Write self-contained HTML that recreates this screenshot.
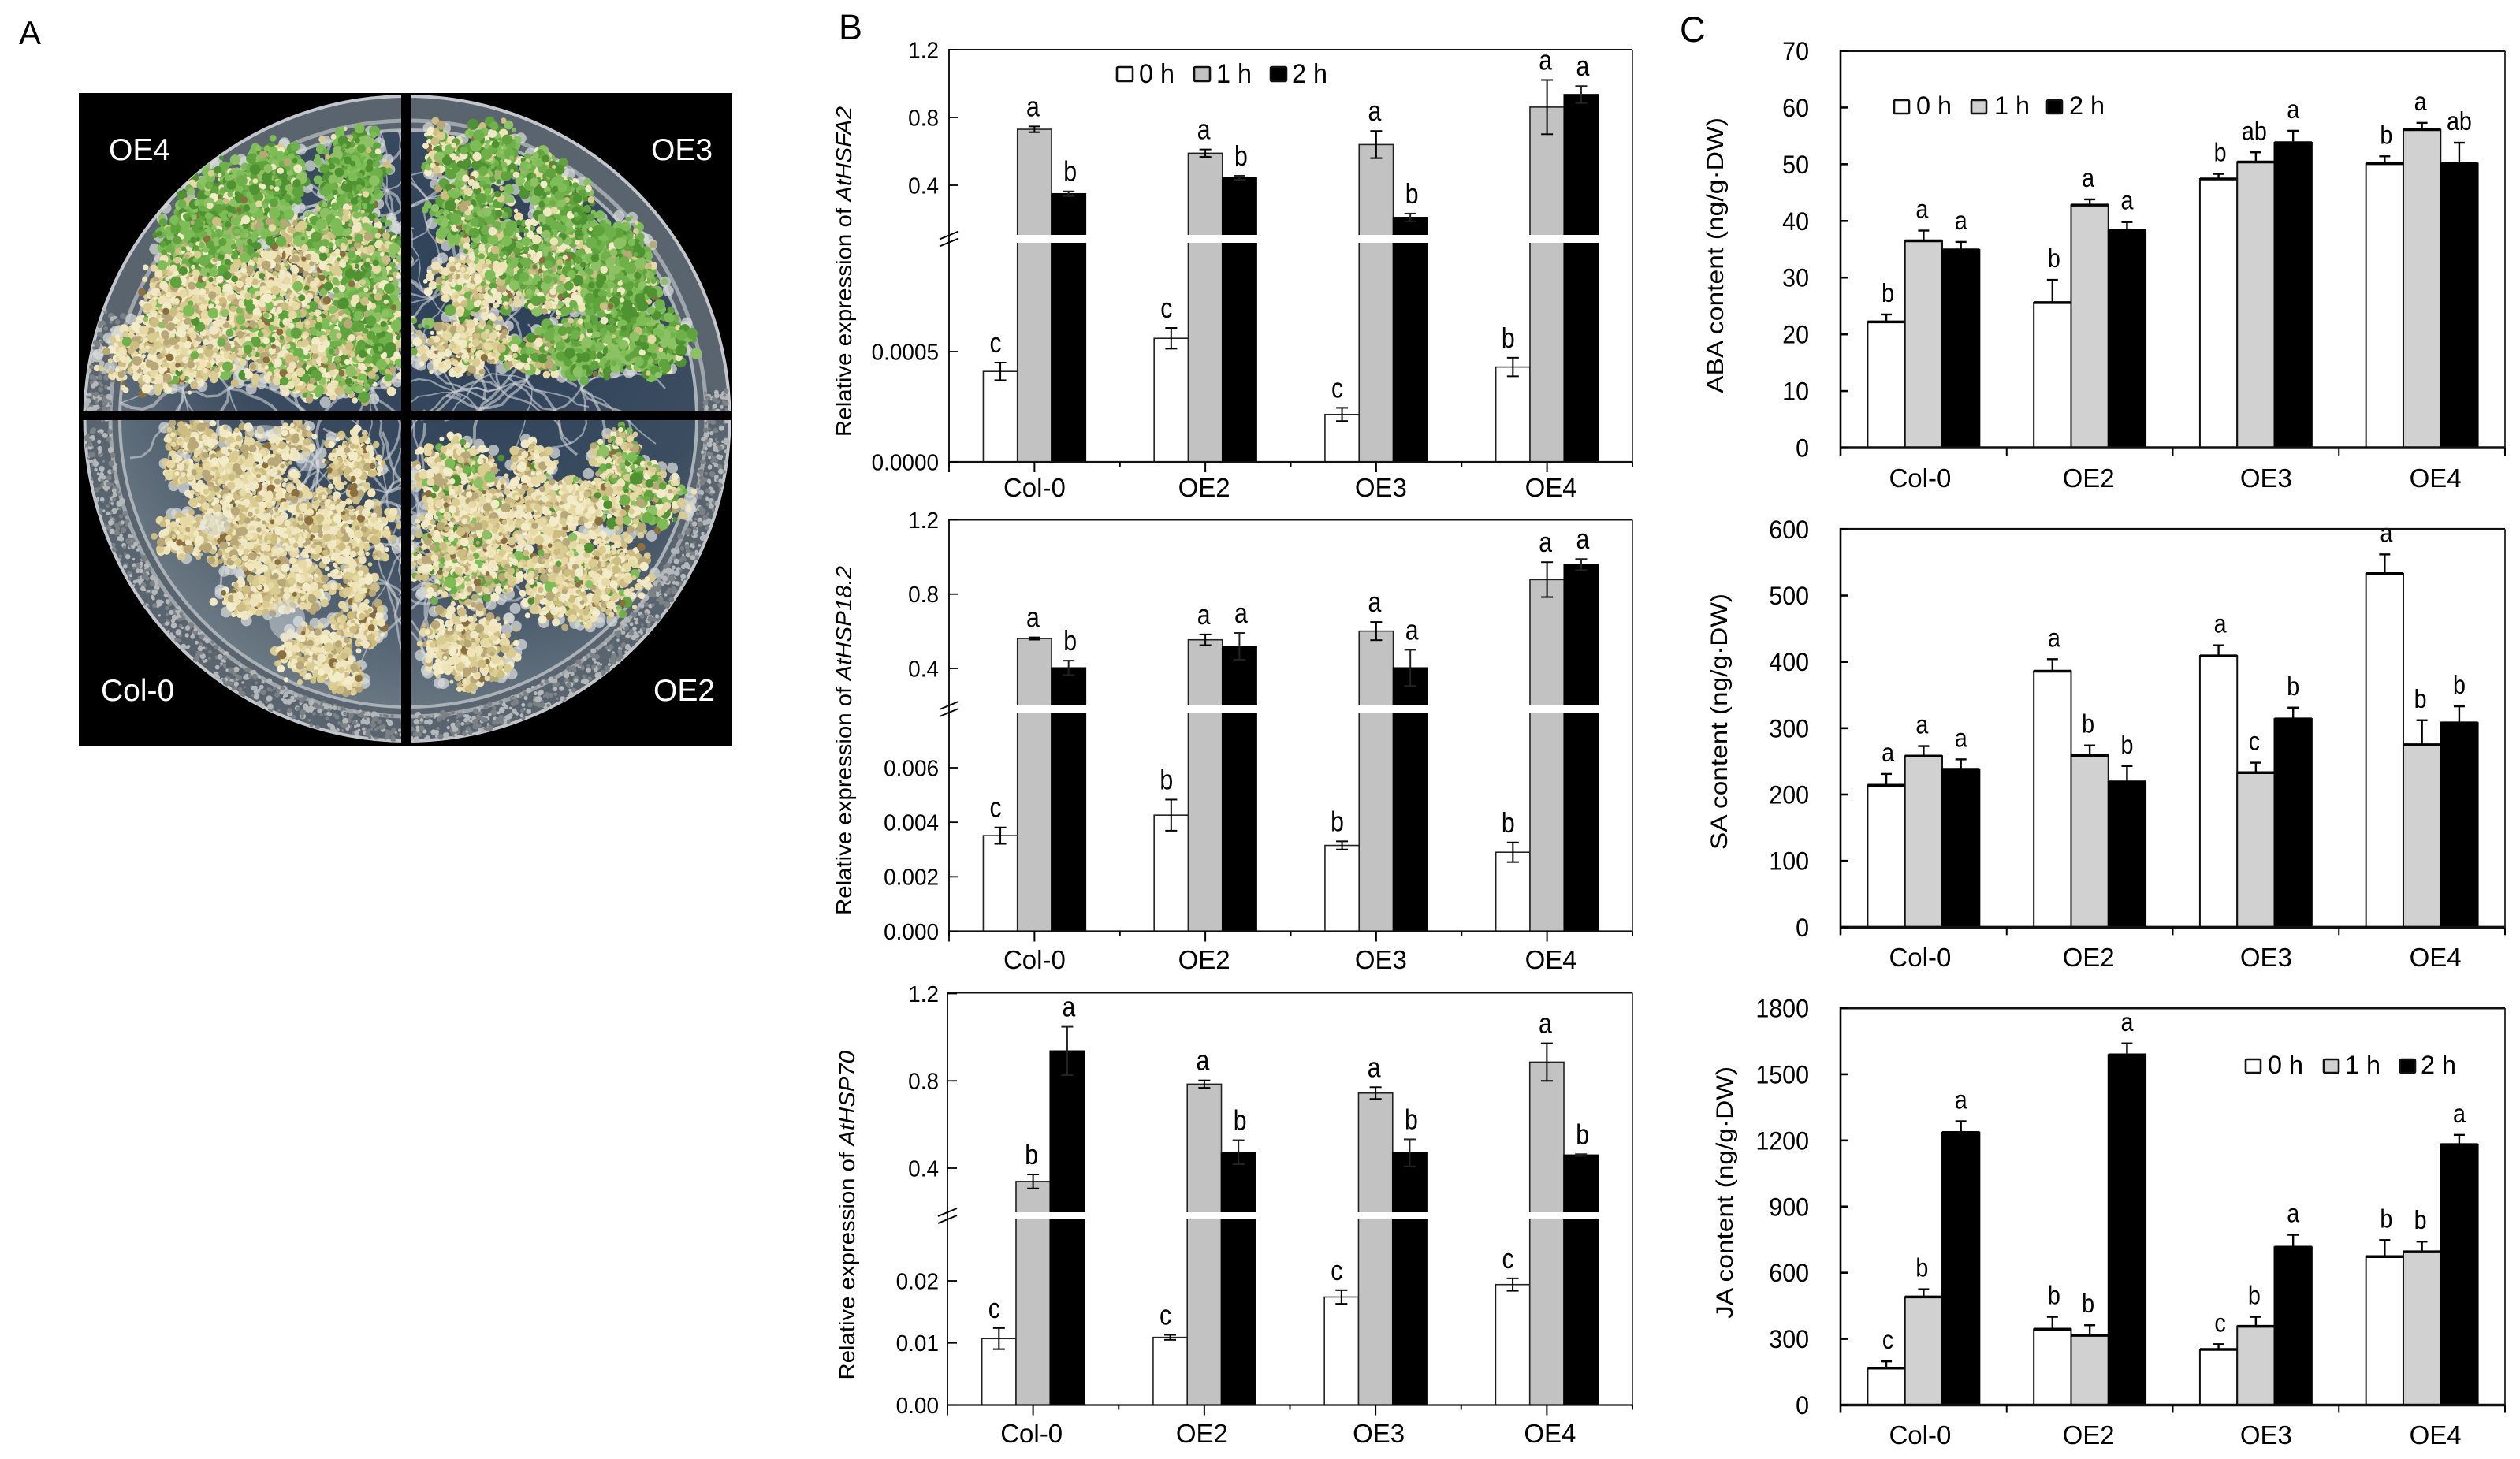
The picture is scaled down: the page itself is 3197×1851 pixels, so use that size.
<!DOCTYPE html>
<html lang="en">
<head>
<meta charset="utf-8">
<title>Panel figure: seedlings, gene expression and hormone content</title>
<style>
html,body{margin:0;padding:0;background:#fff}
svg{display:block}
text{font-family:"Liberation Sans",sans-serif;fill:#000}
</style>
</head>
<body>
<svg id="figure" xmlns="http://www.w3.org/2000/svg" width="3197" height="1851" viewBox="0 0 3197 1851">
  <defs>
    <radialGradient id="agar" cx="62%" cy="30%" r="80%">
      <stop offset="0" stop-color="#2c4058"/>
      <stop offset="0.55" stop-color="#3c4d60"/>
      <stop offset="1" stop-color="#76838c"/>
    </radialGradient>
    <clipPath id="dish-clip"><circle cx="516.5" cy="531" r="410"/></clipPath>
    <clipPath id="agar-clip"><circle cx="518" cy="531" r="366"/></clipPath>
  </defs>
  <rect width="3197" height="1851" fill="#fff"/>

  <text x="24" y="56" font-size="42">A</text>
  <text x="1064" y="50" font-size="45">B</text>
  <text x="2131" y="53" font-size="45">C</text>

  <g id="photo">
    <rect x="100" y="118" width="829" height="829" fill="#000"/>
    <circle cx="516.5" cy="531" r="409" fill="#5a646e" stroke="#c2c6ca" stroke-width="4"/>
    <circle cx="518" cy="531" r="378" fill="none" stroke="#9ea5ab" stroke-width="5"/>
    <circle cx="518" cy="531" r="366" fill="url(#agar)" stroke="#aab1b7" stroke-width="4"/>
    <g id="condensation" clip-path="url(#dish-clip)"></g>
    <g id="roots" clip-path="url(#agar-clip)"></g>
    <g id="seedlings" clip-path="url(#dish-clip)"></g>
    <rect x="509" y="118" width="13" height="829" fill="#000"/>
    <rect x="100" y="521" width="829" height="12" fill="#000"/>
    <text x="138" y="203" font-size="39" style="fill:#fff">OE4</text>
    <text x="826" y="203" font-size="39" style="fill:#fff">OE3</text>
    <text x="128" y="889" font-size="39" style="fill:#fff">Col-0</text>
    <text x="829" y="889" font-size="39" style="fill:#fff">OE2</text>
  </g>
  <g id="charts"></g>
</svg>

<script>
// ---------- chart data ----------
const categories = ['Col-0', 'OE2', 'OE3', 'OE4'];
const seriesNames = ['0 h', '1 h', '2 h'];

const hsfa2Values0h = [0.00041, 0.00056, 0.000215, 0.00043];
const hsfa2Values1h = [0.73, 0.589, 0.64, 0.861];
const hsfa2Values2h = [0.35, 0.444, 0.21, 0.935];
const hsfa2Err0h = [0.00004, 0.000047, 0.00003, 0.000042];
const hsfa2Err1h = [0.017, 0.022, 0.08, 0.16];
const hsfa2Err2h = [0.014, 0.012, 0.023, 0.05];
const hsfa2Letters = ['c', 'a', 'b', 'c', 'a', 'b', 'c', 'a', 'b', 'b', 'a', 'a'];
const hsfa2UpperTicks = [0.4, 0.8, 1.2];
const hsfa2UpperLabels = ['0.4', '0.8', '1.2'];
const hsfa2LowerTicks = [0, 0.0005];
const hsfa2LowerLabels = ['0.0000', '0.0005'];

const hsp182Values0h = [0.00351, 0.00426, 0.00315, 0.0029];
const hsp182Values1h = [0.561, 0.554, 0.601, 0.878];
const hsp182Values2h = [0.403, 0.519, 0.403, 0.959];
const hsp182Err0h = [0.0003, 0.00057, 0.00015, 0.00036];
const hsp182Err1h = [0.006, 0.029, 0.049, 0.094];
const hsp182Err2h = [0.039, 0.072, 0.097, 0.03];
const hsp182Letters = ['c', 'a', 'b', 'b', 'a', 'a', 'b', 'a', 'a', 'b', 'a', 'a'];
const hsp182UpperTicks = [0.4, 0.8, 1.2];
const hsp182UpperLabels = ['0.4', '0.8', '1.2'];
const hsp182LowerTicks = [0, 0.002, 0.004, 0.006];
const hsp182LowerLabels = ['0.000', '0.002', '0.004', '0.006'];

const hsp70Values0h = [0.0107, 0.0109, 0.0174, 0.0194];
const hsp70Values1h = [0.339, 0.785, 0.744, 0.886];
const hsp70Values2h = [0.937, 0.473, 0.47, 0.46];
const hsp70Err0h = [0.0017, 0.0004, 0.0011, 0.001];
const hsp70Err1h = [0.032, 0.017, 0.027, 0.086];
const hsp70Err2h = [0.111, 0.055, 0.062, 0.004];
const hsp70Letters = ['c', 'b', 'a', 'c', 'a', 'b', 'c', 'a', 'b', 'c', 'a', 'b'];
const hsp70UpperTicks = [0.4, 0.8, 1.2];
const hsp70UpperLabels = ['0.4', '0.8', '1.2'];
const hsp70LowerTicks = [0, 0.01, 0.02];
const hsp70LowerLabels = ['0.00', '0.01', '0.02'];

const abaValues0h = [22.2, 25.6, 47.4, 50.1];
const abaValues1h = [36.5, 42.8, 50.4, 56.1];
const abaValues2h = [34.9, 38.3, 53.8, 50.1];
const abaErr0h = [1.3, 4.0, 0.9, 1.3];
const abaErr1h = [1.8, 1.0, 1.7, 1.2];
const abaErr2h = [1.4, 1.5, 2.1, 3.7];
const abaLetters = ['b', 'a', 'a', 'b', 'a', 'a', 'b', 'ab', 'a', 'b', 'a', 'ab'];
const abaTicks = [0, 10, 20, 30, 40, 50, 60, 70];
const abaTickLabels = ['0', '10', '20', '30', '40', '50', '60', '70'];

const saValues0h = [214, 386, 409, 533];
const saValues1h = [258, 259, 233, 275];
const saValues2h = [238, 219, 314, 308];
const saErr0h = [17, 18, 16, 29];
const saErr1h = [15, 15, 15, 37];
const saErr2h = [15, 24, 17, 25];
const saLetters = ['a', 'a', 'a', 'a', 'b', 'b', 'a', 'c', 'b', 'a', 'b', 'b'];
const saTicks = [0, 100, 200, 300, 400, 500, 600];
const saTickLabels = ['0', '100', '200', '300', '400', '500', '600'];

const jaValues0h = [167, 344, 252, 673];
const jaValues1h = [490, 316, 357, 695];
const jaValues2h = [1236, 1588, 716, 1181];
const jaErr0h = [31, 56, 24, 75];
const jaErr1h = [35, 46, 43, 46];
const jaErr2h = [51, 52, 56, 44];
const jaLetters = ['c', 'b', 'a', 'b', 'b', 'a', 'c', 'b', 'a', 'b', 'b', 'a'];
const jaTicks = [0, 300, 600, 900, 1200, 1500, 1800];
const jaTickLabels = ['0', '300', '600', '900', '1200', '1500', '1800'];

// ---------- helpers ----------
const SVGNS = 'http://www.w3.org/2000/svg';
function node(tag, attrs, parent) {
  const el = document.createElementNS(SVGNS, tag);
  for (const k in attrs) el.setAttribute(k, attrs[k]);
  parent.appendChild(el);
  return el;
}
function linear(v0, y0, v1, y1) {
  return v => y0 + (v - v0) * (y1 - y0) / (v1 - v0);
}
function line(parent, x1, y1, x2, y2, stroke, w) {
  return node('line', { x1, y1, x2, y2, stroke, 'stroke-width': w }, parent);
}

// ---------- chart renderer ----------
function drawChart(p) {
  const root = document.getElementById('charts');
  const g = node('g', {}, root);
  
  

  const groupW = (p.right - p.left) / 4;
  const centers = categories.map((c, i) => p.left + groupW * (i + 0.5));
  const yOf = p.broken
    ? (v => (v >= p.split ? p.upperScale(v) : p.lowerScale(v)))
    : p.scale;

  // bars
  const fills = ['#fff', p.gray, '#000'];
  p.values.forEach((vals, s) => {
    vals.forEach((v, i) => {
      const x = centers[i] + (s - 1.5) * p.barW;
      const y = yOf(v);
      const bar = node('rect', {
        x: x, y: y, width: p.barW, height: p.bottom - y,
        fill: fills[s], stroke: s === 2 ? '#000' : p.barStroke, 'stroke-width': p.barLine
      }, g);
      
      
      if (p.topLine) {
        const cap = line(g, x, y, x + p.barW, y, '#000', p.topLine);
        
        
      }
    });
  });

  // break band across bars
  if (p.broken) {
    centers.forEach(c => {
      const band = node('rect', {
        x: c - 0.5 * p.barW - 2, y: p.breakTop,
        width: p.barW * 2 + 4, height: p.breakBottom - p.breakTop, fill: '#fff'
      }, g);
      
      
    });
    centers.forEach((c, i) => {
      if (p.values[0][i] >= p.split) {
        node('rect', { x: c - 1.5 * p.barW, y: p.breakTop, width: p.barW, height: p.breakBottom - p.breakTop, fill: '#fff' }, g);
      }
    });
  }

  // error bars
  p.values.forEach((vals, s) => {
    vals.forEach((v, i) => {
      const cx = centers[i] + (s - 1) * p.barW;
      const e = p.errors[s][i];
      const top = yOf(v + e);
      const low = p.upOnly ? yOf(v) : yOf(v - e);
      const color = (s === 2 && !p.upOnly) ? '#222' : '#000';
      const eb = node('g', {}, g);
      
      
      line(eb, cx, top, cx, low, color, p.errLine);
      line(eb, cx - p.capW / 2, top, cx + p.capW / 2, top, color, p.errLine);
      if (!p.upOnly) line(eb, cx - p.capW / 2, low, cx + p.capW / 2, low, color, p.errLine);
    });
  });

  // significance letters
  p.letters.forEach((txt, k) => {
    const i = Math.floor(k / 3), s = k % 3;
    const cx = centers[i] + (s - 1) * p.barW + p.letterDx[s];
    const top = yOf(p.values[s][i] + p.errors[s][i]);
    const t = node('text', {
      transform: 'translate(' + cx + ',' + (top - p.letterGap) + ') scale(' + p.letterScale + ',1)',
      x: 0, y: 0, 'font-size': p.letterSize, 'text-anchor': 'middle'
    }, g);
    t.textContent = txt;
    
    
  });

  // frame
  const frame = node('g', {}, g);
  
  
  line(frame, p.left, p.top, p.right, p.top, '#111', p.topW);
  line(frame, p.right, p.top, p.right, p.bottom, '#222', p.rightW);
  line(frame, p.left, p.top - p.topW / 2, p.left, p.bottom + p.tickLen, '#000', p.axisW);
  line(frame, p.left, p.bottom, p.right, p.bottom, '#111', p.baseW);

  // y ticks
  function yTicks(vals, labels, scale) {
    vals.forEach((v, i) => {
      const y = scale(v);
      const tick = line(g, p.left, y, p.left + p.yTickLen, y, '#000', p.axisW);
      
      
      const t = node('text', {
        transform: 'translate(' + p.tickRight + ',' + (y + p.tickSize * 0.36) + ') scale(' + p.tickScale + ',1)',
        x: 0, y: 0, 'font-size': p.tickSize, 'text-anchor': 'end'
      }, g);
      t.textContent = labels[i];
      
      
    });
  }
  if (p.broken) {
    yTicks(p.upperTicks, p.upperLabels, p.upperScale);
    yTicks(p.lowerTicks, p.lowerLabels, p.lowerScale);
    const m = (p.breakTop + p.breakBottom) / 2;
    [-4.5, 4.5].forEach(d => {
      const sl = line(g, p.left - 12, m + d + 5, p.left + 12, m + d - 5, '#000', 2);
      
      
    });
  } else {
    yTicks(p.ticks, p.tickLabels, p.scale);
  }

  // x ticks and labels
  for (let i = 0; i <= 4; i++) {
    const x = p.left + groupW * i;
    const tk = line(g, x, p.bottom, x, p.bottom + (p.broken ? 6 : p.tickLen), '#000', 2);
    
    
  }
  categories.forEach((c, i) => {
    if (p.broken) {
      const tk = line(g, centers[i], p.bottom, centers[i], p.bottom + 13, '#000', 2);
      
      
    }
    const t = node('text', { x: centers[i] + p.catDx[i], y: p.catY, 'font-size': p.catSize, 'text-anchor': 'middle' }, g);
    t.textContent = c;
    
    
  });

  // y title
  const title = node('text', {
    transform: 'translate(' + p.titleX + ',' + p.titleBottom + ') rotate(-90)',
    x: 0, y: 0, 'font-size': p.titleSize,
    textLength: p.titleLen, lengthAdjust: 'spacingAndGlyphs'
  }, g);
  
  
  title.appendChild(document.createTextNode(p.titleText));
  if (p.titleItalic) {
    const it = node('tspan', { 'font-style': 'italic' }, title);
    it.textContent = p.titleItalic;
  }

  // legend
  if (p.legend) {
    seriesNames.forEach((n, s) => {
      const lg = node('g', {}, g);
      
      
      const sx = p.legend.swatchX[s];
      node('rect', {
        x: sx, y: p.legend.y, width: p.legend.w, height: p.legend.h, rx: 1.5,
        fill: fills[s], stroke: '#111', 'stroke-width': 2.6
      }, lg);
      const t = node('text', {
        x: p.legend.textX[s], y: p.legend.baseline,
        'font-size': p.legend.size, textLength: 45, lengthAdjust: 'spacingAndGlyphs'
      }, lg);
      t.textContent = n;
    });
  }
}

const bBase = {
  broken: true, split: 0.1, gray: '#c2c2c2', barStroke: '#222', barLine: 1.6, topLine: 0,
  left: 1204, right: 2071, barW: 43.3, capW: 15, errLine: 2, upOnly: false,
  letterDx: [-6, -2, 2], letterGap: 13, letterSize: 36, letterScale: 0.84,
  tickLen: 13, yTickLen: 12, axisW: 1.8, topW: 2, rightW: 1.6, baseW: 2.2,
  tickSize: 28.5, tickScale: 0.98, tickRight: 1191, catSize: 33, catDx: [0, -1.5, 6, 5], titleSize: 28
};
const cBase = {
  broken: false, gray: '#d1d1d1', barStroke: '#111', barLine: 2, topLine: 3.5,
  left: 2335, right: 3178, barW: 47.3, capW: 14, errLine: 2.4, upOnly: true,
  letterDx: [2, -2, 0], letterGap: 16, letterSize: 33, letterScale: 0.87,
  tickLen: 10, yTickLen: 10, axisW: 2.6, topW: 3, rightW: 1.8, baseW: 3.4,
  tickSize: 32, tickScale: 0.95, tickRight: 2295, catSize: 33, catDx: [-4.5, -1.5, 13, 17], titleSize: 30
};

drawChart(Object.assign({}, bBase, {
  name: 'chart-athsfa2', top: 63, bottom: 586, breakTop: 298, breakBottom: 308,
  values: [hsfa2Values0h, hsfa2Values1h, hsfa2Values2h],
  errors: [hsfa2Err0h, hsfa2Err1h, hsfa2Err2h], letters: hsfa2Letters,
  upperScale: linear(0.4, 235, 1.2, 63), lowerScale: linear(0, 586, 0.0005, 446),
  upperTicks: hsfa2UpperTicks, upperLabels: hsfa2UpperLabels,
  lowerTicks: hsfa2LowerTicks, lowerLabels: hsfa2LowerLabels,
  catY: 630, titleX: 1080, titleBottom: 554, titleLen: 419,
  titleText: 'Relative expression of ', titleItalic: 'AtHSFA2',
  legend: { y: 85, w: 20, h: 18, size: 34, baseline: 105, swatchX: [1417, 1515, 1612], textX: [1445, 1543, 1639] }
}));
drawChart(Object.assign({}, bBase, {
  name: 'chart-athsp18-2', top: 659.5, bottom: 1181.5, breakTop: 895, breakBottom: 904,
  values: [hsp182Values0h, hsp182Values1h, hsp182Values2h],
  errors: [hsp182Err0h, hsp182Err1h, hsp182Err2h], letters: hsp182Letters,
  upperScale: linear(0.4, 848, 1.2, 659.5), lowerScale: linear(0, 1181.5, 0.006, 974),
  upperTicks: hsp182UpperTicks, upperLabels: hsp182UpperLabels,
  lowerTicks: hsp182LowerTicks, lowerLabels: hsp182LowerLabels,
  catY: 1229, titleX: 1080, titleBottom: 1161, titleLen: 443,
  titleText: 'Relative expression of ', titleItalic: 'AtHSP18.2'
}));
drawChart(Object.assign({}, bBase, {
  name: 'chart-athsp70', left: 1202, top: 1259.5, bottom: 1782.5, breakTop: 1538, breakBottom: 1547,
  values: [hsp70Values0h, hsp70Values1h, hsp70Values2h],
  errors: [hsp70Err0h, hsp70Err1h, hsp70Err2h], letters: hsp70Letters,
  upperScale: linear(0.4, 1482, 1.2, 1260.5), lowerScale: linear(0, 1782.5, 0.02, 1625),
  upperTicks: hsp70UpperTicks, upperLabels: hsp70UpperLabels,
  lowerTicks: hsp70LowerTicks, lowerLabels: hsp70LowerLabels,
  catY: 1830, catDx: [-2, -3, 4, 4], titleX: 1084, titleBottom: 1750.5, titleLen: 417.5,
  titleText: 'Relative expression of ', titleItalic: 'AtHSP70'
}));
drawChart(Object.assign({}, cBase, {
  name: 'chart-aba', top: 64.5, bottom: 568,
  values: [abaValues0h, abaValues1h, abaValues2h],
  errors: [abaErr0h, abaErr1h, abaErr2h], letters: abaLetters,
  scale: linear(0, 568, 70, 64.5), ticks: abaTicks, tickLabels: abaTickLabels,
  catY: 618, titleX: 2186, titleBottom: 499, titleLen: 350,
  titleText: 'ABA content (ng/g\u00b7DW)',
  legend: { y: 127, w: 19, h: 17, size: 32, baseline: 145, swatchX: [2403, 2501, 2597], textX: [2431, 2530, 2625] }
}));
drawChart(Object.assign({}, cBase, {
  name: 'chart-sa', top: 671.4, bottom: 1176.3,
  values: [saValues0h, saValues1h, saValues2h],
  errors: [saErr0h, saErr1h, saErr2h], letters: saLetters,
  scale: linear(0, 1176.3, 600, 671.4), ticks: saTicks, tickLabels: saTickLabels,
  catY: 1226, titleX: 2191, titleBottom: 1078, titleLen: 325,
  titleText: 'SA content (ng/g\u00b7DW)'
}));
drawChart(Object.assign({}, cBase, {
  name: 'chart-ja', top: 1279, bottom: 1782.5,
  values: [jaValues0h, jaValues1h, jaValues2h],
  errors: [jaErr0h, jaErr1h, jaErr2h], letters: jaLetters,
  scale: linear(0, 1782.5, 1800, 1279), ticks: jaTicks, tickLabels: jaTickLabels,
  catY: 1832, titleX: 2198, titleBottom: 1673, titleLen: 320,
  titleText: 'JA content (ng/g\u00b7DW)',
  legend: { y: 1344, w: 19, h: 17, size: 32, baseline: 1362, swatchX: [2849, 2948, 3045], textX: [2877, 2975, 3071] }
}));

// ---------- photo texture (decorative, not chart data) ----------
(function () {
  let seed = 20240611;
  function rnd() {
    seed = (seed + 0x6D2B79F5) | 0;
    let t = Math.imul(seed ^ (seed >>> 15), 1 | seed);
    t = (t + Math.imul(t ^ (t >>> 7), 61 | t)) ^ t;
    return ((t ^ (t >>> 14)) >>> 0) / 4294967296;
  }
  const px = X => 60 + X / 1.742;
  const py = Y => 80 + Y / 1.742;
  const cx = 516.5, cy = 531;

  // condensation droplets around lower rim and left edge
  const cond = document.getElementById('condensation');
  for (let i = 0; i < 1300; i++) {
    const a = (-5 + rnd() * 205) * Math.PI / 180;
    const r = 376 + rnd() * 32;
    node('circle', {
      cx: (cx + r * Math.cos(a)).toFixed(1), cy: (cy + r * Math.sin(a)).toFixed(1),
      r: (1.5 + rnd() * 2.4).toFixed(1), fill: rnd() < 0.5 ? '#b4b8bb' : '#7c8186'
    }, cond);
  }

  // roots
  const roots = document.getElementById('roots');
  const rootStarts = [[750, 280], [840, 300], [850, 520], [830, 620], [1000, 720], [1180, 720], [1060, 700], [400, 720], [720, 720], [620, 300], [750, 950], [820, 1000], [750, 1150], [300, 720], [860, 1150], [500, 1000], [600, 900], [1000, 1100]];
  rootStarts.forEach(s => {
    for (let k = 0; k < 9; k++) {
      let x = px(s[0]), y = py(s[1]);
      let d = 'M' + x.toFixed(0) + ' ' + y.toFixed(0);
      let a = rnd() * 6.28;
      for (let j = 0; j < 8; j++) {
        a += (rnd() - 0.5) * 1.2;
        x += Math.cos(a) * 15; y += Math.sin(a) * 15;
        d += 'L' + x.toFixed(0) + ' ' + y.toFixed(0);
      }
      node('path', { d, fill: 'none', stroke: '#cdd2d5', 'stroke-width': 1.5 + rnd() * 2.5, opacity: 0.6 }, roots);
    }
  });

  // seedlings: [x, y, rx, ry, green share], measured on the photo
  const clusters = [
    [505,240,50,50,.85],[672,235,55,65,.9],[430,310,85,70,.75],[345,390,70,65,.85],[660,330,45,50,.6],
    [580,380,35,30,.7],[560,440,60,70,.1],[690,430,70,70,.5],[310,500,70,60,.1],[290,560,70,40,.1],[450,560,70,100,.15],
    [640,620,120,85,.4],[720,560,45,70,.75],[250,650,90,55,.05],[350,660,50,30,.05],[570,660,70,50,.2],
    [860,190,22,40,.2],[895,210,30,35,.7],[982,195,45,45,.7],[1088,250,40,40,.7],[1140,325,50,55,.8],[938,325,65,60,.6],
    [950,490,75,50,.15],[1050,440,70,60,.65],[1120,490,50,50,.35],[1240,440,70,70,.8],[1270,510,65,50,.85],
    [1195,625,90,50,.8],[1340,620,60,50,.9],[1070,650,50,30,.3],[925,625,75,50,.05],[990,615,25,30,.4],
    [320,825,50,25,0],[290,900,25,25,0],[430,930,90,85,0],[545,835,30,30,0],[675,880,45,45,0],[640,1030,95,60,0],
    [440,1060,85,45,0],[300,1045,45,35,0],[530,1160,70,40,0],[445,1185,50,30,0],[680,1150,35,30,0],[580,1300,60,45,0],
    [690,1240,40,40,0],[660,1350,30,30,0],
    [905,915,70,60,.1],[1070,875,35,30,.05],[1070,985,110,50,.02],[1180,960,40,35,.02],[925,1085,90,80,.15],
    [1170,1130,110,75,.07],[1265,870,40,45,.35],[1310,960,75,55,.3],[930,1290,75,65,.02],[1190,1215,25,20,.3]
  ];
  const pale = ['#efe4b8', '#e6d9a4', '#f3ecc8', '#d9cc90', '#cdbd80', '#f0e8c4', '#b8a878'];
  const green = ['#6eb04a', '#5fa33c', '#7dbd55', '#4f9232', '#8cc264'];
  const sd = document.getElementById('seedlings');
  const leaves = [];
  clusters.forEach(c => {
    const rx = c[2] / 1.742, ry = c[3] / 1.742;
    const n = Math.round(Math.PI * rx * ry / 11);
    // sparse translucent cotyledons around each clump
    for (let i = 0; i < n / 25; i++) {
      const a = rnd() * 6.28, q = 1.25 + rnd() * 0.35;
      node('circle', {
        cx: (px(c[0]) + Math.cos(a) * rx * q).toFixed(1),
        cy: (py(c[1]) + Math.sin(a) * ry * q).toFixed(1),
        r: 7, fill: '#d5d9d8', opacity: 0.75
      }, sd);
    }
    for (let i = 0; i < n; i++) {
      const a = rnd() * 6.28, q = (rnd() + rnd()) / 2 * 1.65;
      const isGreen = rnd() < c[4];
      let col = isGreen ? green[Math.floor(rnd() * green.length)] : pale[Math.floor(rnd() * pale.length)];
      if (!isGreen && rnd() < 0.04) col = '#8b6f3e';
      leaves.push({
        x: px(c[0]) + Math.cos(a) * q * rx,
        y: py(c[1]) + Math.sin(a) * q * ry,
        r: 2.5 + rnd() * (isGreen ? 5 : 3.5), col, o: rnd()
      });
    }
  });
  leaves.sort((a, b) => a.o - b.o);
  leaves.forEach(l => {
    node('circle', { cx: l.x.toFixed(1), cy: l.y.toFixed(1), r: l.r.toFixed(1), fill: l.col }, sd);
  });
  // bright reflection patches
  [[530, 1230, 40, 45], [480, 815, 40, 15], [575, 880, 25, 22], [370, 1020, 35, 25]].forEach(b => {
    node('ellipse', { cx: px(b[0]), cy: py(b[1]), rx: b[2] / 1.742, ry: b[3] / 1.742, fill: '#dfe6ea', opacity: 0.45 }, sd);
  });
})();
</script>
</body>
</html>
